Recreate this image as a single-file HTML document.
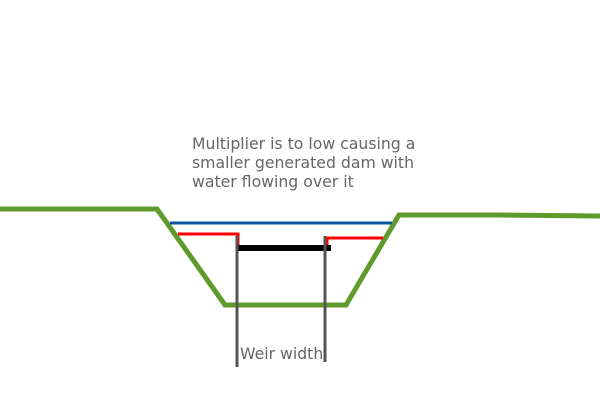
<!DOCTYPE html>
<html><head><style>body{margin:0;background:#fff}svg{display:block}</style></head>
<body>
<svg width="600" height="400" viewBox="0 0 600 400" xmlns="http://www.w3.org/2000/svg">
<polyline points="0,209 157,209 225,305 346,305 399,215 497,215 600,216" fill="none" stroke="#5f9a2c" stroke-width="5"/>
<line x1="170" y1="223" x2="392" y2="223" stroke="#0b55a0" stroke-width="3"/>
<polyline points="178,234 238,234 238,251" fill="none" stroke="#ff0000" stroke-width="3"/>
<polyline points="327,251 327,238 383,238" fill="none" stroke="#ff0000" stroke-width="3"/>
<line x1="238" y1="248" x2="331" y2="248" stroke="#000" stroke-width="6"/>
<line x1="237" y1="236" x2="237" y2="367" stroke="#555" stroke-width="3"/>
<line x1="325" y1="236" x2="325" y2="362" stroke="#555" stroke-width="3"/>
<g font-family="DejaVu Sans, sans-serif" font-size="15.7" fill="#666">
<text x="192" y="149">Multiplier is to low causing a</text>
<text x="192" y="168">smaller generated dam with</text>
<text x="192" y="187">water flowing over it</text>
<text x="240" y="359">Weir width</text>
</g>
</svg>
</body></html>
